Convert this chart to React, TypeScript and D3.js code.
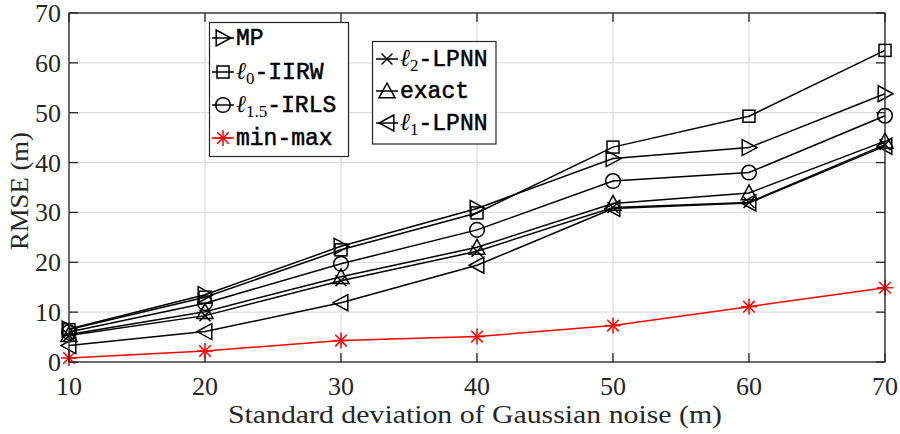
import React from "react";
import * as d3 from "d3";

const xs = [10, 20, 30, 40, 50, 60, 70];
const mpVals = [6.6, 13.5, 23.2, 30.8, 40.8, 43.0, 53.8];
const l0Vals = [6.5, 13.0, 22.5, 29.9, 43.1, 49.3, 62.5];
const l15Vals = [6.0, 11.8, 19.7, 26.5, 36.3, 38.0, 49.4];
const minmaxVals = [0.8, 2.2, 4.3, 5.1, 7.3, 11.1, 14.9];
const l2Vals = [5.3, 9.3, 16.3, 22.2, 31.0, 32.0, 43.6];
const exactVals = [5.5, 10.1, 17.1, 23.0, 31.8, 33.9, 44.3];
const l1Vals = [3.3, 6.1, 11.9, 19.4, 30.8, 31.9, 43.3];
const xTicks = [10, 20, 30, 40, 50, 60, 70];
const yTicks = [0, 10, 20, 30, 40, 50, 60, 70];

type Marker = "tri-right" | "square" | "circle" | "asterisk" | "cross" | "tri-up" | "tri-left";

const series: { key: string; values: number[]; marker: Marker; color: string }[] = [
  { key: "mp", values: mpVals, marker: "tri-right", color: "#000" },
  { key: "l0", values: l0Vals, marker: "square", color: "#000" },
  { key: "l15", values: l15Vals, marker: "circle", color: "#000" },
  { key: "minmax", values: minmaxVals, marker: "asterisk", color: "#ff0000" },
  { key: "l2", values: l2Vals, marker: "cross", color: "#000" },
  { key: "exact", values: exactVals, marker: "tri-up", color: "#000" },
  { key: "l1", values: l1Vals, marker: "tri-left", color: "#000" },
];

const W = 900;
const H = 434;
const L = 69, R = 885, T = 13, B = 362;
const x = d3.scaleLinear().domain([10, 70]).range([L, R]);
const y = d3.scaleLinear().domain([0, 70]).range([B, T]);
const line = d3.line<number>().x((_, i) => x(xs[i])).y((v) => y(v));

const MONO = "'Liberation Mono', monospace";
const SERIF = "'Liberation Serif', 'DejaVu Serif', serif";

function MarkerShape({ type, cx, cy, color }: { type: Marker; cx: number; cy: number; color: string }) {
  const sw = 1.5;
  const common = { fill: "none", stroke: color, strokeWidth: sw };
  const s = 8;
  switch (type) {
    case "tri-right":
      return <polygon {...common} points={`${cx - s * 0.85},${cy - s} ${cx + s},${cy} ${cx - s * 0.85},${cy + s}`} />;
    case "tri-left":
      return <polygon {...common} points={`${cx + s * 0.85},${cy - s} ${cx - s},${cy} ${cx + s * 0.85},${cy + s}`} />;
    case "tri-up":
      return <polygon {...common} points={`${cx - s},${cy + s * 0.85} ${cx},${cy - s} ${cx + s},${cy + s * 0.85}`} />;
    case "square":
      return <rect {...common} x={cx - 6} y={cy - 6} width={12} height={12} />;
    case "circle":
      return <circle {...common} cx={cx} cy={cy} r={7.3} />;
    case "cross": {
      const c = 5.5;
      return (
        <g {...common}>
          <line x1={cx - c} y1={cy - c} x2={cx + c} y2={cy + c} />
          <line x1={cx - c} y1={cy + c} x2={cx + c} y2={cy - c} />
        </g>
      );
    }
    case "asterisk": {
      const a = 8;
      const d = 5.8;
      return (
        <g {...common}>
          <line x1={cx - a} y1={cy} x2={cx + a} y2={cy} />
          <line x1={cx} y1={cy - a} x2={cx} y2={cy + a} />
          <line x1={cx - d} y1={cy - d} x2={cx + d} y2={cy + d} />
          <line x1={cx - d} y1={cy + d} x2={cx + d} y2={cy - d} />
        </g>
      );
    }
  }
}

function Ell({ sub, rest }: { sub: string; rest: string }) {
  return (
    <>
      <tspan fontFamily={SERIF} fontStyle="italic" fontSize={24} strokeWidth={0}>ℓ</tspan>
      <tspan fontFamily={SERIF} fontSize={17} dy={5} strokeWidth={0}>{sub}</tspan>
      <tspan fontFamily={MONO} dy={-5}>{rest}</tspan>
    </>
  );
}

function LegendEntry({ mx, ty, marker, color, children }: { mx: number; ty: number; marker: Marker; color: string; children: React.ReactNode }) {
  return (
    <g>
      <line x1={mx - 11} x2={mx + 11} y1={ty} y2={ty} stroke={color} strokeWidth={1.5} />
      <MarkerShape type={marker} cx={mx} cy={ty} color={color} />
      <text x={mx + 13} y={ty + 7} fontFamily={MONO} fontSize={23} fill="#000" stroke="#000" strokeWidth={0.5}>
        {children}
      </text>
    </g>
  );
}

export default function App() {
  return (
    <svg width={W} height={H} style={{ position: "fixed", left: 0, top: 0, background: "#fff" }}>
      <rect x={0} y={0} width={W} height={H} fill="#fff" />
      {/* grid */}
      <g stroke="#dfdfdf" strokeWidth={1.3}>
        {xTicks.map((t) => (
          <line key={"gx" + t} x1={x(t)} x2={x(t)} y1={T} y2={B} />
        ))}
        {yTicks.map((t) => (
          <line key={"gy" + t} x1={L} x2={R} y1={y(t)} y2={y(t)} />
        ))}
      </g>
      {/* ticks */}
      <g stroke="#262626" strokeWidth={1.3}>
        {xTicks.map((t) => (
          <g key={"tx" + t}>
            <line x1={x(t)} x2={x(t)} y1={B} y2={B - 9} />
            <line x1={x(t)} x2={x(t)} y1={T} y2={T + 9} />
          </g>
        ))}
        {yTicks.map((t) => (
          <g key={"ty" + t}>
            <line x1={L} x2={L + 9} y1={y(t)} y2={y(t)} />
            <line x1={R} x2={R - 9} y1={y(t)} y2={y(t)} />
          </g>
        ))}
      </g>
      {/* series */}
      {series.map((s) => (
        <g key={s.key}>
          <path d={line(s.values) || ""} fill="none" stroke={s.color} strokeWidth={1.5} />
          {s.values.map((v, i) => (
            <MarkerShape key={i} type={s.marker} cx={x(xs[i])} cy={y(v)} color={s.color} />
          ))}
        </g>
      ))}
      {/* axes box */}
      <rect x={L} y={T} width={R - L} height={B - T} fill="none" stroke="#262626" strokeWidth={1.3} />
      {/* tick labels */}
      <g fontFamily={SERIF} fontSize={26} fill="#262626">
        {xTicks.map((t) => (
          <text key={"lx" + t} x={x(t)} y={395} textAnchor="middle">{t}</text>
        ))}
        {yTicks.map((t) => (
          <text key={"ly" + t} x={61} y={y(t) + 9} textAnchor="end">{t}</text>
        ))}
      </g>
      <text x={(L + R) / 2 - 2} y={423} textAnchor="middle" fontFamily={SERIF} fontSize={26} fill="#262626" textLength={494} lengthAdjust="spacingAndGlyphs">
        Standard deviation of Gaussian noise (m)
      </text>
      <text transform={`translate(28,${191}) rotate(-90)`} textAnchor="middle" fontFamily={SERIF} fontSize={26} fill="#262626" textLength={118} lengthAdjust="spacingAndGlyphs">
        RMSE (m)
      </text>
      {/* legend 1 */}
      <rect x={209.5} y={22.5} width={139} height={134} fill="#fff" stroke="#262626" strokeWidth={1.2} />
      <LegendEntry mx={223} ty={38} marker="tri-right" color="#000">MP</LegendEntry>
      <LegendEntry mx={223} ty={72} marker="square" color="#000"><Ell sub="0" rest="-IIRW" /></LegendEntry>
      <LegendEntry mx={223} ty={105} marker="circle" color="#000"><Ell sub="1.5" rest="-IRLS" /></LegendEntry>
      <LegendEntry mx={223} ty={138} marker="asterisk" color="#ff0000">min-max</LegendEntry>
      {/* legend 2 */}
      <rect x={372.5} y={41.5} width={123.5} height={102.5} fill="#fff" stroke="#262626" strokeWidth={1.2} />
      <LegendEntry mx={387} ty={59} marker="cross" color="#000"><Ell sub="2" rest="-LPNN" /></LegendEntry>
      <LegendEntry mx={387} ty={91} marker="tri-up" color="#000">exact</LegendEntry>
      <LegendEntry mx={387} ty={123} marker="tri-left" color="#000"><Ell sub="1" rest="-LPNN" /></LegendEntry>
    </svg>
  );
}
